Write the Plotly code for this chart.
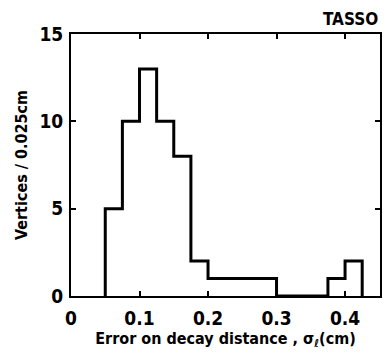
import plotly.graph_objects as go

bin_left = [0.05, 0.075, 0.1, 0.125, 0.15, 0.175, 0.2, 0.225, 0.25, 0.275, 0.3, 0.325, 0.35, 0.375, 0.4]
counts = [5, 10, 13, 10, 8, 2, 1, 1, 1, 1, 0, 0, 0, 1, 2]
bin_width = 0.025
x_ticks = [0, 0.1, 0.2, 0.3, 0.4]
x_ticklabels = ["0", "0.1", "0.2", "0.3", "0.4"]
y_ticks = [0, 5, 10, 15]

xs = [bin_left[0]] + bin_left + [bin_left[-1] + bin_width]
ys = [0] + counts + [0]

FONT = "DejaVu Sans Condensed"

fig = go.Figure()
fig.add_trace(go.Scatter(x=xs, y=ys, mode="lines", line=dict(shape="hv", color="black", width=3),
                         hoverinfo="skip", showlegend=False))

axis_common = dict(showline=True, linecolor="black", linewidth=2, mirror="allticks",
                   ticks="inside", ticklen=5, tickwidth=1.5, tickcolor="black",
                   showgrid=False, zeroline=False)

fig.update_xaxes(range=[0, 0.451], tickvals=x_ticks, ticktext=x_ticklabels, ticklabelstandoff=4,
                 title=dict(text="Error on decay distance , σ<sub>ℓ</sub>(cm)", standoff=2,
                            font=dict(size=16, family=FONT, color="black", weight="bold")),
                 tickfont=dict(size=19, family=FONT, color="black", weight="bold"), **axis_common)
fig.update_yaxes(range=[0, 15], tickvals=y_ticks, ticklabelstandoff=2,
                 title=dict(text="Vertices / 0.025cm", standoff=8,
                            font=dict(size=16, family=FONT, color="black", weight="bold")),
                 tickfont=dict(size=19, family=FONT, color="black", weight="bold"), **axis_common)

fig.add_annotation(text="TASSO", x=1, y=1, xref="paper", yref="paper",
                   xanchor="right", yanchor="bottom", yshift=3, showarrow=False,
                   font=dict(size=17, family=FONT, color="black", weight="bold"))

fig.update_layout(width=384, height=354, margin=dict(l=71, r=2, t=34, b=58),
                  paper_bgcolor="white", plot_bgcolor="white",
                  font=dict(family=FONT, color="black"))

fig.write_html("out.html")
